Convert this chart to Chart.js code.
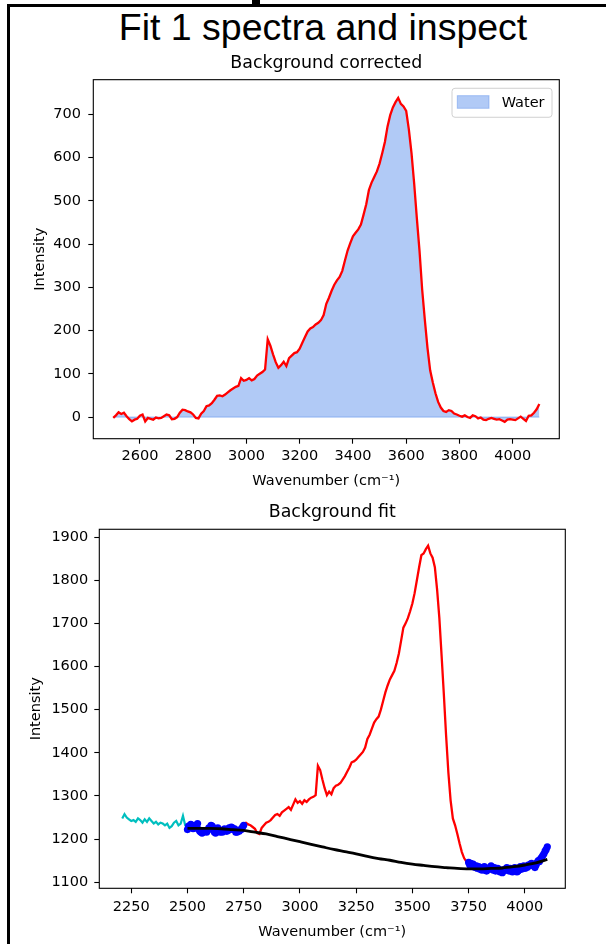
<!DOCTYPE html>
<html>
<head>
<meta charset="utf-8">
<script src="https://cdn.jsdelivr.net/npm/chart.js@4.4.1/dist/chart.umd.min.js"></script>
<style>
  html, body { margin: 0; padding: 0; background: #fff; }
  body { width: 606px; height: 944px; position: relative; overflow: hidden; }
  #frame { position: absolute; left: 7px; top: 4px; width: 640px; height: 980px;
           border-top: 3px solid #000; border-left: 3px solid #000; }
  #tab { position: absolute; left: 252px; top: 0; width: 8px; height: 5px; background: #000; }
  h1 { position: absolute; margin: 0; left: 0; width: 646px; top: 9px; text-align: center;
       font: normal 37.5px/37.5px 'Liberation Sans', Arial, sans-serif; color: #000; }
  canvas { position: absolute; left: 0; }
  #corrected { top: 40px; }
  #fit { top: 500px; }
</style>
</head>
<body>
<div id="frame"></div>
<div id="tab"></div>
<h1>Fit 1 spectra and inspect</h1>
<canvas id="corrected" width="606" height="460"></canvas>
<canvas id="fit" width="606" height="444"></canvas>
<script>
// ---- Background-corrected water band ----
const correctedWavenumber = [
  2500, 2510, 2520, 2530, 2540, 2550, 2560, 2570, 2580, 2590,
  2600, 2610, 2620, 2630, 2640, 2650, 2660, 2670, 2680, 2690,
  2700, 2710, 2720, 2730, 2740, 2750, 2760, 2770, 2780, 2790,
  2800, 2810, 2820, 2830, 2840, 2850, 2860, 2870, 2880, 2890,
  2900, 2910, 2920, 2930, 2940, 2950, 2960, 2970, 2980, 2990,
  3000, 3010, 3020, 3030, 3040, 3050, 3060, 3070, 3080, 3090,
  3100, 3110, 3120, 3130, 3140, 3150, 3160, 3170, 3180, 3190,
  3200, 3210, 3220, 3230, 3240, 3250, 3260, 3270, 3280, 3290,
  3300, 3310, 3320, 3330, 3340, 3350, 3360, 3370, 3380, 3390,
  3400, 3410, 3420, 3430, 3440, 3450, 3460, 3470, 3480, 3490,
  3500, 3510, 3520, 3530, 3540, 3550, 3560, 3570, 3580, 3590,
  3600, 3610, 3620, 3630, 3640, 3650, 3660, 3670, 3680, 3690,
  3700, 3710, 3720, 3730, 3740, 3750, 3760, 3770, 3780, 3790,
  3800, 3810, 3820, 3830, 3840, 3850, 3860, 3870, 3880, 3890,
  3900, 3910, 3920, 3930, 3940, 3950, 3960, 3970, 3980, 3990,
  4000, 4010, 4020, 4030, 4040, 4050, 4060, 4070, 4080, 4090,
  4100
];
const correctedIntensity = [
  -2, 4, 11, 7, 10, 2, -5, -10, -6, -4,
  3, 6, -10, -2, -4, -6, -1, -3, -2, 2,
  6, 4, -5, -4, 0, 10, 17, 16, 13, 11,
  6, -2, -3, 8, 14, 25, 27, 32, 40, 49,
  50, 48, 52, 57, 62, 66, 70, 72, 90, 84,
  86, 90, 85, 88, 96, 100, 104, 110, 180, 165,
  145, 127, 114, 120, 128, 118, 136, 142, 148, 150,
  158, 172, 185, 198, 205, 208, 214, 218, 224, 236,
  262, 276, 292, 306, 316, 324, 338, 362, 385, 402,
  418, 426, 434, 445, 468, 492, 525, 542, 555, 568,
  586, 610, 636, 672, 698, 716, 728, 738, 724, 718,
  708, 665, 610, 540, 460, 385, 295, 225, 160, 108,
  80, 55, 35, 22, 14, 12, 16, 14, 8, 6,
  3, 1, 4, 0, -2, 4, 2, -3, -1, -6,
  -7, -4, -2, -4, -6, -5, -8, -11, -6, -5,
  -6, -7, -3, 1, -4, -9, 3, 4, 10, 18,
  30
];
const correctedXTicks = [2600, 2800, 3000, 3200, 3400, 3600, 3800, 4000];
const correctedYTicks = [0, 100, 200, 300, 400, 500, 600, 700];

// ---- Raw spectrum and polynomial background ----
const excludedWavenumber = [
  2210, 2220, 2230, 2240, 2250, 2260, 2270, 2280, 2290, 2300,
  2310, 2320, 2330, 2340, 2350, 2360, 2370, 2380, 2390, 2400,
  2410, 2420, 2430, 2440, 2450, 2460, 2470, 2480, 2490, 2500
];
const excludedIntensity = [
  1248, 1258, 1250, 1246, 1242, 1244, 1240, 1248, 1244, 1238,
  1246, 1240, 1248, 1242, 1236, 1240, 1234, 1238, 1236, 1232,
  1236, 1226, 1230, 1238, 1242, 1232, 1236, 1254, 1232, 1228
];
const lowBgWavenumber = [
  2500, 2505, 2510, 2515, 2520, 2525, 2530, 2535, 2540, 2545,
  2550, 2555, 2560, 2565, 2570, 2575, 2580, 2585, 2590, 2595,
  2600, 2605, 2610, 2615, 2620, 2625, 2630, 2635, 2640, 2645,
  2650, 2655, 2660, 2665, 2670, 2675, 2680, 2685, 2690, 2695,
  2700, 2705, 2710, 2715, 2720, 2725, 2730, 2735, 2740, 2745,
  2750
];
const lowBgIntensity = [
  1222, 1230, 1228, 1234, 1232, 1224, 1226, 1232, 1230, 1236,
  1222, 1218, 1216, 1214, 1216, 1220, 1218, 1216, 1220, 1226,
  1226, 1232, 1230, 1226, 1216, 1214, 1222, 1226, 1222, 1216,
  1220, 1216, 1218, 1224, 1222, 1218, 1220, 1226, 1222, 1228,
  1226, 1222, 1224, 1216, 1216, 1220, 1218, 1222, 1222, 1228,
  1232
];
const ramanWavenumber = [
  2750, 2760, 2770, 2780, 2790, 2800, 2810, 2820, 2830, 2840,
  2850, 2860, 2870, 2880, 2890, 2900, 2910, 2920, 2930, 2940,
  2950, 2960, 2970, 2980, 2990, 3000, 3010, 3020, 3030, 3040,
  3050, 3060, 3070, 3080, 3090, 3100, 3110, 3120, 3130, 3140,
  3150, 3160, 3170, 3180, 3190, 3200, 3210, 3220, 3230, 3240,
  3250, 3260, 3270, 3280, 3290, 3300, 3310, 3320, 3330, 3340,
  3350, 3360, 3370, 3380, 3390, 3400, 3410, 3420, 3430, 3440,
  3450, 3460, 3470, 3480, 3490, 3500, 3510, 3520, 3530, 3540,
  3550, 3560, 3570, 3580, 3590, 3600, 3610, 3620, 3630, 3640,
  3650, 3660, 3670, 3680, 3690, 3700, 3710, 3720, 3730, 3740,
  3750
];
const ramanIntensity = [
  1236, 1238, 1234, 1232, 1228, 1224, 1214, 1212, 1226, 1232,
  1238, 1240, 1244, 1250, 1256, 1258, 1254, 1262, 1266, 1270,
  1274, 1268, 1280, 1292, 1284, 1288, 1282, 1290, 1286, 1292,
  1296, 1298, 1302, 1370, 1360, 1338, 1318, 1302, 1310, 1304,
  1318, 1324, 1326, 1330, 1338, 1346, 1356, 1366, 1378, 1380,
  1384, 1390, 1396, 1402, 1412, 1432, 1442, 1456, 1470, 1478,
  1484, 1500, 1520, 1540, 1556, 1570, 1580, 1590, 1608, 1630,
  1660, 1690, 1700, 1712, 1728, 1746, 1770, 1800, 1830, 1858,
  1862, 1872, 1880, 1862, 1852, 1830, 1778, 1712, 1625, 1535,
  1440, 1355, 1290, 1248, 1232, 1212, 1190, 1170, 1156, 1148,
  1142
];
const highBgWavenumber = [
  3750, 3755, 3760, 3765, 3770, 3775, 3780, 3785, 3790, 3795,
  3800, 3805, 3810, 3815, 3820, 3825, 3830, 3835, 3840, 3845,
  3850, 3855, 3860, 3865, 3870, 3875, 3880, 3885, 3890, 3895,
  3900, 3905, 3910, 3915, 3920, 3925, 3930, 3935, 3940, 3945,
  3950, 3955, 3960, 3965, 3970, 3975, 3980, 3985, 3990, 3995,
  4000, 4005, 4010, 4015, 4020, 4025, 4030, 4035, 4040, 4045,
  4050, 4055, 4060, 4065, 4070, 4075, 4080, 4085, 4090, 4095,
  4100
];
const highBgIntensity = [
  1146, 1140, 1144, 1138, 1142, 1136, 1134, 1138, 1132, 1136,
  1130, 1134, 1128, 1132, 1136, 1128, 1126, 1132, 1130, 1134,
  1138, 1130, 1128, 1134, 1126, 1130, 1132, 1126, 1124, 1128,
  1122, 1126, 1130, 1128, 1134, 1130, 1126, 1132, 1128, 1124,
  1130, 1134, 1128, 1124, 1126, 1132, 1136, 1130, 1134, 1138,
  1132, 1136, 1134, 1140, 1138, 1142, 1144, 1140, 1138, 1134,
  1140, 1146, 1150, 1148, 1154, 1158, 1162, 1166, 1172, 1176,
  1182
];
const fitWavenumber = [
  2500, 2550, 2600, 2650, 2700, 2750, 2800, 2850, 2900, 2950,
  3000, 3050, 3100, 3150, 3200, 3250, 3300, 3350, 3400, 3450,
  3500, 3550, 3600, 3650, 3700, 3750, 3800, 3850, 3900, 3950,
  4000, 4050, 4100
];
const fitIntensity = [
  1225, 1225, 1225, 1224, 1222, 1220, 1216, 1212, 1206, 1200,
  1194, 1188, 1182, 1176, 1171, 1166, 1160, 1155, 1151, 1146,
  1142, 1139, 1136, 1134, 1132, 1131, 1131, 1132, 1133, 1136,
  1140, 1145, 1153
];
const fitXTicks = [2250, 2500, 2750, 3000, 3250, 3500, 3750, 4000];
const fitYTicks = [1100, 1200, 1300, 1400, 1500, 1600, 1700, 1800, 1900];

// ---- helpers ----
const FONT = "'DejaVu Sans', 'Liberation Sans', sans-serif";
Chart.defaults.font.family = FONT;
Chart.defaults.color = '#000';
const WATER = 'rgba(100, 149, 237, 0.5)';

const toPoints = (xs, ys) => xs.map((x, i) => ({ x, y: ys[i] }));

// full box around the plotting area
const frameBox = {
  id: 'frameBox',
  afterDatasetsDraw(chart) {
    const { ctx, chartArea: a } = chart;
    ctx.save();
    ctx.strokeStyle = '#000';
    ctx.lineWidth = 1.1;
    ctx.strokeRect(a.left, a.top, a.right - a.left, a.bottom - a.top);
    ctx.restore();
  }
};

// framed legend entry in the upper right corner
const cornerLegend = {
  id: 'cornerLegend',
  afterDraw(chart) {
    const ds = chart.data.datasets.find(d => d.showInLegend);
    if (!ds) return;
    const { ctx, chartArea: a } = chart;
    const bw = 100, bh = 29, r = 3;
    const bx = a.right - 107.3, by = a.top + 8.6;
    ctx.save();
    ctx.beginPath();
    ctx.moveTo(bx + r, by);
    ctx.arcTo(bx + bw, by, bx + bw, by + bh, r);
    ctx.arcTo(bx + bw, by + bh, bx, by + bh, r);
    ctx.arcTo(bx, by + bh, bx, by, r);
    ctx.arcTo(bx, by, bx + bw, by, r);
    ctx.closePath();
    ctx.fillStyle = 'rgba(255,255,255,0.8)';
    ctx.fill();
    ctx.strokeStyle = '#d0d0d0';
    ctx.lineWidth = 1;
    ctx.stroke();
    ctx.fillStyle = ds.backgroundColor;
    ctx.fillRect(bx + 5.3, by + 7.4, 31.7, 12.6);
    ctx.strokeStyle = ds.backgroundColor;
    ctx.strokeRect(bx + 5.3, by + 7.4, 31.7, 12.6);
    ctx.fillStyle = '#000';
    ctx.font = '14.5px ' + FONT;
    ctx.textBaseline = 'alphabetic';
    ctx.textAlign = 'left';
    ctx.fillText(ds.label, bx + 49.7, by + 19);
    ctx.restore();
  }
};

function axis(opts) {
  const horizontal = opts.dir === 'x';
  return {
    type: 'linear',
    bounds: 'data',
    min: opts.min,
    max: opts.max,
    afterBuildTicks: s => { s.ticks = opts.ticks.map(v => ({ value: v })); },
    afterFit: s => { if (horizontal) s.height = opts.size; else s.width = opts.size; },
    grid: { drawOnChartArea: false, drawTicks: true, tickLength: 5, tickColor: '#000', tickWidth: 1.1, color: '#000' },
    border: { display: false },
    ticks: {
      padding: opts.tickPad, autoSkip: false, maxRotation: 0, minRotation: 0,
      font: { size: 14.5 }, color: '#000',
      callback: v => String(v)
    },
    title: {
      display: true, text: opts.title, color: '#000', font: { size: 14.5 },
      padding: horizontal ? { top: 0, bottom: opts.titlePad } : { top: opts.titlePad, bottom: 0 }
    }
  };
}

const base = { responsive: false, animation: false, devicePixelRatio: 1, events: [] };

new Chart(document.getElementById('corrected'), {
  type: 'line',
  data: {
    datasets: [
      {
        label: 'spectrum',
        data: toPoints(correctedWavenumber, correctedIntensity),
        borderColor: '#ff0000', borderWidth: 2.3, pointRadius: 0, tension: 0, fill: false, order: 0
      },
      {
        label: 'baseline',
        data: [{ x: correctedWavenumber[0], y: 0 }, { x: correctedWavenumber[correctedWavenumber.length - 1], y: 0 }],
        borderColor: WATER, borderWidth: 1.2, pointRadius: 0, fill: false, order: 1
      },
      {
        label: 'Water', showInLegend: true,
        data: toPoints(correctedWavenumber, correctedIntensity),
        borderColor: 'transparent', borderWidth: 0, backgroundColor: WATER,
        pointRadius: 0, tension: 0, fill: 'origin', order: 2
      }
    ]
  },
  options: {
    ...base,
    layout: { padding: { left: 0, right: 46.7, top: 0, bottom: 0 } },
    plugins: {
      legend: { display: false },
      tooltip: { enabled: false },
      title: {
        display: true, text: 'Background corrected', fullSize: false, color: '#000',
        font: { size: 17.4, weight: 'normal' }, padding: { top: 13.2, bottom: 5.6 }
      }
    },
    scales: {
      x: axis({ dir: 'x', min: 2425, max: 4175, ticks: correctedXTicks, size: 61.3, tickPad: 4, title: 'Wavenumber (cm⁻¹)', titlePad: 9.8 }),
      y: axis({ dir: 'y', min: -50, max: 780, ticks: correctedYTicks, size: 93.3, tickPad: 7.3, title: 'Intensity', titlePad: 31.3 })
    }
  },
  plugins: [frameBox, cornerLegend]
});

new Chart(document.getElementById('fit'), {
  type: 'line',
  data: {
    datasets: [
      {
        label: 'fit',
        data: toPoints(fitWavenumber, fitIntensity),
        borderColor: '#000', borderWidth: 2.8, pointRadius: 0, cubicInterpolationMode: 'monotone', fill: false, order: 0
      },
      {
        label: 'background low',
        data: toPoints(lowBgWavenumber, lowBgIntensity),
        showLine: false, pointRadius: 3.6, pointBorderWidth: 0, pointBackgroundColor: '#0000ff', order: 1
      },
      {
        label: 'background high',
        data: toPoints(highBgWavenumber, highBgIntensity),
        showLine: false, pointRadius: 3.6, pointBorderWidth: 0, pointBackgroundColor: '#0000ff', order: 1
      },
      {
        label: 'spectrum',
        data: toPoints(ramanWavenumber, ramanIntensity),
        borderColor: '#ff0000', borderWidth: 2.3, pointRadius: 0, tension: 0, fill: false, order: 2
      },
      {
        label: 'excluded',
        data: toPoints(excludedWavenumber, excludedIntensity),
        borderColor: '#00bfbf', borderWidth: 2.2, pointRadius: 0, tension: 0, fill: false, order: 3
      }
    ]
  },
  options: {
    ...base,
    layout: { padding: { left: 0, right: 40.7, top: 0, bottom: 0 } },
    plugins: {
      legend: { display: false },
      tooltip: { enabled: false },
      title: {
        display: true, text: 'Background fit', fullSize: false, color: '#000',
        font: { size: 17.4, weight: 'normal' }, padding: { top: 2.2, bottom: 6.2 }
      }
    },
    scales: {
      x: axis({ dir: 'x', min: 2108, max: 4180, ticks: fitXTicks, size: 55.7, tickPad: 5, title: 'Wavenumber (cm⁻¹)', titlePad: 3.3 }),
      y: axis({ dir: 'y', min: 1086, max: 1918, ticks: fitYTicks, size: 99.3, tickPad: 6, title: 'Intensity', titlePad: 27.3 })
    }
  },
  plugins: [frameBox]
});
</script>
</body>
</html>
